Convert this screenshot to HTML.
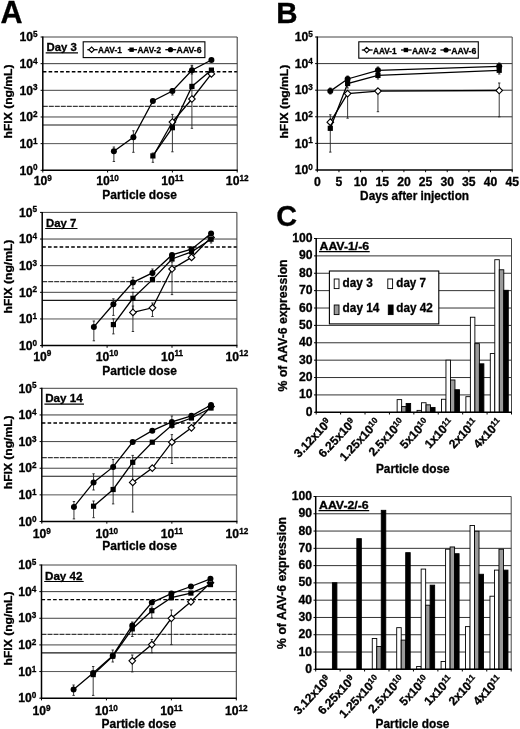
<!DOCTYPE html><html><head><meta charset="utf-8"><style>html,body{margin:0;padding:0;background:#fff;width:520px;height:729px;overflow:hidden}svg{filter:grayscale(100%)}</style></head><body><svg width="520" height="729" viewBox="0 0 520 729" style="display:block" font-family='"Liberation Sans", sans-serif' font-weight="bold">
<style>text{stroke:#000;stroke-width:0.3px}</style>
<rect width="520" height="729" fill="#fff"/>
<text x="0.60" y="22.60" font-size="30.5" text-anchor="start" >A</text>
<text x="276.30" y="23.20" font-size="29.5" text-anchor="start" >B</text>
<text x="276.30" y="225.80" font-size="28.8" text-anchor="start" >C</text>
<line x1="42.80" y1="63.66" x2="237.20" y2="63.66" stroke="#3a3a3a" stroke-width="1.0" />
<line x1="42.80" y1="71.69" x2="237.20" y2="71.69" stroke="#000" stroke-width="1.4" stroke-dasharray="3.6,2.2"/>
<line x1="42.80" y1="90.32" x2="237.20" y2="90.32" stroke="#444" stroke-width="1.0" />
<line x1="42.80" y1="106.37" x2="237.20" y2="106.37" stroke="#3a3a3a" stroke-width="1.2" stroke-dasharray="5,1"/>
<line x1="42.80" y1="116.98" x2="237.20" y2="116.98" stroke="#444" stroke-width="1.0" />
<line x1="42.80" y1="125.01" x2="237.20" y2="125.01" stroke="#1a1a1a" stroke-width="1.2" />
<line x1="42.80" y1="143.64" x2="237.20" y2="143.64" stroke="#555" stroke-width="1.0" />
<line x1="42.80" y1="37.00" x2="237.20" y2="37.00" stroke="#444" stroke-width="1.0" />
<line x1="237.20" y1="37.00" x2="237.20" y2="170.30" stroke="#333" stroke-width="1.0" />
<line x1="42.80" y1="36.50" x2="42.80" y2="171.00" stroke="#000" stroke-width="1.5" />
<line x1="42.10" y1="170.30" x2="237.70" y2="170.30" stroke="#000" stroke-width="1.5" />
<line x1="40.60" y1="170.30" x2="42.80" y2="170.30" stroke="#000" stroke-width="1.0" />
<line x1="40.60" y1="143.64" x2="42.80" y2="143.64" stroke="#000" stroke-width="1.0" />
<line x1="40.60" y1="116.98" x2="42.80" y2="116.98" stroke="#000" stroke-width="1.0" />
<line x1="40.60" y1="90.32" x2="42.80" y2="90.32" stroke="#000" stroke-width="1.0" />
<line x1="40.60" y1="63.66" x2="42.80" y2="63.66" stroke="#000" stroke-width="1.0" />
<line x1="40.60" y1="37.00" x2="42.80" y2="37.00" stroke="#000" stroke-width="1.0" />
<line x1="42.80" y1="170.30" x2="42.80" y2="172.50" stroke="#000" stroke-width="1.0" />
<line x1="107.60" y1="170.30" x2="107.60" y2="172.50" stroke="#000" stroke-width="1.0" />
<line x1="172.40" y1="170.30" x2="172.40" y2="172.50" stroke="#000" stroke-width="1.0" />
<line x1="237.20" y1="170.30" x2="237.20" y2="172.50" stroke="#000" stroke-width="1.0" />
<text x="37.60" y="174.50" font-size="12.2" text-anchor="end">10<tspan font-size="8.2" dy="-4.2">0</tspan></text>
<text x="37.60" y="147.84" font-size="12.2" text-anchor="end">10<tspan font-size="8.2" dy="-4.2">1</tspan></text>
<text x="37.60" y="121.18" font-size="12.2" text-anchor="end">10<tspan font-size="8.2" dy="-4.2">2</tspan></text>
<text x="37.60" y="94.52" font-size="12.2" text-anchor="end">10<tspan font-size="8.2" dy="-4.2">3</tspan></text>
<text x="37.60" y="67.86" font-size="12.2" text-anchor="end">10<tspan font-size="8.2" dy="-4.2">4</tspan></text>
<text x="37.60" y="41.20" font-size="12.2" text-anchor="end">10<tspan font-size="8.2" dy="-4.2">5</tspan></text>
<text x="42.80" y="185.30" font-size="12.2" text-anchor="middle">10<tspan font-size="8.2" dy="-4.2">9</tspan></text>
<text x="107.60" y="185.30" font-size="12.2" text-anchor="middle">10<tspan font-size="8.2" dy="-4.2">10</tspan></text>
<text x="172.40" y="185.30" font-size="12.2" text-anchor="middle">10<tspan font-size="8.2" dy="-4.2">11</tspan></text>
<text x="237.20" y="185.30" font-size="12.2" text-anchor="middle">10<tspan font-size="8.2" dy="-4.2">12</tspan></text>
<text x="0" y="0" font-size="11.3" text-anchor="middle" transform="translate(11.90,101.50) rotate(-90)" textLength="73.8" lengthAdjust="spacingAndGlyphs">hFIX (ng/mL)</text>
<text x="102.30" y="198.60" font-size="12.3" text-anchor="start" textLength="74.5" lengthAdjust="spacingAndGlyphs" >Particle dose</text>
<text x="46.50" y="50.80" font-size="10.5" text-anchor="start" textLength="30.3" lengthAdjust="spacingAndGlyphs" >Day 3</text>
<line x1="45.70" y1="52.80" x2="78.00" y2="52.80" stroke="#000" stroke-width="1.2" />
<line x1="113.88" y1="147.00" x2="113.88" y2="161.50" stroke="#222" stroke-width="0.9" />
<line x1="112.68" y1="147.00" x2="115.08" y2="147.00" stroke="#222" stroke-width="0.9" />
<line x1="112.68" y1="161.50" x2="115.08" y2="161.50" stroke="#222" stroke-width="0.9" />
<line x1="133.39" y1="130.80" x2="133.39" y2="152.30" stroke="#222" stroke-width="0.9" />
<line x1="132.19" y1="130.80" x2="134.59" y2="130.80" stroke="#222" stroke-width="0.9" />
<line x1="132.19" y1="152.30" x2="134.59" y2="152.30" stroke="#222" stroke-width="0.9" />
<line x1="172.40" y1="88.50" x2="172.40" y2="95.00" stroke="#222" stroke-width="0.9" />
<line x1="171.20" y1="88.50" x2="173.60" y2="88.50" stroke="#222" stroke-width="0.9" />
<line x1="171.20" y1="95.00" x2="173.60" y2="95.00" stroke="#222" stroke-width="0.9" />
<line x1="152.89" y1="153.00" x2="152.89" y2="162.30" stroke="#222" stroke-width="0.9" />
<line x1="151.69" y1="153.00" x2="154.09" y2="153.00" stroke="#222" stroke-width="0.9" />
<line x1="151.69" y1="162.30" x2="154.09" y2="162.30" stroke="#222" stroke-width="0.9" />
<line x1="172.40" y1="114.40" x2="172.40" y2="151.80" stroke="#222" stroke-width="0.9" />
<line x1="171.20" y1="114.40" x2="173.60" y2="114.40" stroke="#222" stroke-width="0.9" />
<line x1="171.20" y1="151.80" x2="173.60" y2="151.80" stroke="#222" stroke-width="0.9" />
<line x1="191.91" y1="65.30" x2="191.91" y2="128.30" stroke="#222" stroke-width="0.9" />
<line x1="190.71" y1="65.30" x2="193.11" y2="65.30" stroke="#222" stroke-width="0.9" />
<line x1="190.71" y1="128.30" x2="193.11" y2="128.30" stroke="#222" stroke-width="0.9" />
<line x1="191.91" y1="66.00" x2="191.91" y2="74.00" stroke="#222" stroke-width="0.9" />
<line x1="190.71" y1="66.00" x2="193.11" y2="66.00" stroke="#222" stroke-width="0.9" />
<line x1="190.71" y1="74.00" x2="193.11" y2="74.00" stroke="#222" stroke-width="0.9" />
<line x1="152.89" y1="156.50" x2="172.40" y2="122.00" stroke="#000" stroke-width="1.3"/>
<polyline points="172.40,122.00 191.91,99.00 211.41,73.90" fill="none" stroke="#000" stroke-width="1.3"/>
<path d="M172.40 118.70L175.70 122.00L172.40 125.30L169.10 122.00Z" fill="#fff" stroke="#000" stroke-width="1.1"/>
<path d="M191.91 95.70L195.21 99.00L191.91 102.30L188.61 99.00Z" fill="#fff" stroke="#000" stroke-width="1.1"/>
<path d="M211.41 70.60L214.71 73.90L211.41 77.20L208.11 73.90Z" fill="#fff" stroke="#000" stroke-width="1.1"/>
<polyline points="152.89,155.90 172.40,127.70 191.91,86.40 211.41,70.10" fill="none" stroke="#000" stroke-width="1.3"/>
<rect x="150.29" y="153.30" width="5.2" height="5.2" fill="#000"/>
<rect x="169.80" y="125.10" width="5.2" height="5.2" fill="#000"/>
<rect x="189.31" y="83.80" width="5.2" height="5.2" fill="#000"/>
<rect x="208.81" y="67.50" width="5.2" height="5.2" fill="#000"/>
<polyline points="113.88,151.30 133.39,137.20 152.89,100.90 172.40,91.00 191.91,70.30 211.41,60.00" fill="none" stroke="#000" stroke-width="1.3"/>
<circle cx="113.88" cy="151.30" r="3.0" fill="#000"/>
<circle cx="133.39" cy="137.20" r="3.0" fill="#000"/>
<circle cx="152.89" cy="100.90" r="3.0" fill="#000"/>
<circle cx="172.40" cy="91.00" r="3.0" fill="#000"/>
<circle cx="191.91" cy="70.30" r="3.0" fill="#000"/>
<circle cx="211.41" cy="60.00" r="3.0" fill="#000"/>
<line x1="42.20" y1="239.04" x2="236.90" y2="239.04" stroke="#3a3a3a" stroke-width="1.0" />
<line x1="42.20" y1="247.06" x2="236.90" y2="247.06" stroke="#000" stroke-width="1.4" stroke-dasharray="3.6,2.2"/>
<line x1="42.20" y1="265.68" x2="236.90" y2="265.68" stroke="#444" stroke-width="1.0" />
<line x1="42.20" y1="281.72" x2="236.90" y2="281.72" stroke="#3a3a3a" stroke-width="1.2" stroke-dasharray="5,1"/>
<line x1="42.20" y1="292.32" x2="236.90" y2="292.32" stroke="#444" stroke-width="1.0" />
<line x1="42.20" y1="300.34" x2="236.90" y2="300.34" stroke="#1a1a1a" stroke-width="1.2" />
<line x1="42.20" y1="318.96" x2="236.90" y2="318.96" stroke="#555" stroke-width="1.0" />
<line x1="42.20" y1="212.40" x2="236.90" y2="212.40" stroke="#444" stroke-width="1.0" />
<line x1="236.90" y1="212.40" x2="236.90" y2="345.60" stroke="#333" stroke-width="1.0" />
<line x1="42.20" y1="211.90" x2="42.20" y2="346.30" stroke="#000" stroke-width="1.5" />
<line x1="41.50" y1="345.60" x2="237.40" y2="345.60" stroke="#000" stroke-width="1.5" />
<line x1="40.00" y1="345.60" x2="42.20" y2="345.60" stroke="#000" stroke-width="1.0" />
<line x1="40.00" y1="318.96" x2="42.20" y2="318.96" stroke="#000" stroke-width="1.0" />
<line x1="40.00" y1="292.32" x2="42.20" y2="292.32" stroke="#000" stroke-width="1.0" />
<line x1="40.00" y1="265.68" x2="42.20" y2="265.68" stroke="#000" stroke-width="1.0" />
<line x1="40.00" y1="239.04" x2="42.20" y2="239.04" stroke="#000" stroke-width="1.0" />
<line x1="40.00" y1="212.40" x2="42.20" y2="212.40" stroke="#000" stroke-width="1.0" />
<line x1="42.20" y1="345.60" x2="42.20" y2="347.80" stroke="#000" stroke-width="1.0" />
<line x1="107.10" y1="345.60" x2="107.10" y2="347.80" stroke="#000" stroke-width="1.0" />
<line x1="172.00" y1="345.60" x2="172.00" y2="347.80" stroke="#000" stroke-width="1.0" />
<line x1="236.90" y1="345.60" x2="236.90" y2="347.80" stroke="#000" stroke-width="1.0" />
<text x="37.00" y="349.80" font-size="12.2" text-anchor="end">10<tspan font-size="8.2" dy="-4.2">0</tspan></text>
<text x="37.00" y="323.16" font-size="12.2" text-anchor="end">10<tspan font-size="8.2" dy="-4.2">1</tspan></text>
<text x="37.00" y="296.52" font-size="12.2" text-anchor="end">10<tspan font-size="8.2" dy="-4.2">2</tspan></text>
<text x="37.00" y="269.88" font-size="12.2" text-anchor="end">10<tspan font-size="8.2" dy="-4.2">3</tspan></text>
<text x="37.00" y="243.24" font-size="12.2" text-anchor="end">10<tspan font-size="8.2" dy="-4.2">4</tspan></text>
<text x="37.00" y="216.60" font-size="12.2" text-anchor="end">10<tspan font-size="8.2" dy="-4.2">5</tspan></text>
<text x="42.20" y="360.60" font-size="12.2" text-anchor="middle">10<tspan font-size="8.2" dy="-4.2">9</tspan></text>
<text x="107.10" y="360.60" font-size="12.2" text-anchor="middle">10<tspan font-size="8.2" dy="-4.2">10</tspan></text>
<text x="172.00" y="360.60" font-size="12.2" text-anchor="middle">10<tspan font-size="8.2" dy="-4.2">11</tspan></text>
<text x="236.90" y="360.60" font-size="12.2" text-anchor="middle">10<tspan font-size="8.2" dy="-4.2">12</tspan></text>
<text x="0" y="0" font-size="11.3" text-anchor="middle" transform="translate(11.90,276.60) rotate(-90)" textLength="73.8" lengthAdjust="spacingAndGlyphs">hFIX (ng/mL)</text>
<text x="102.30" y="374.80" font-size="12.3" text-anchor="start" textLength="74.5" lengthAdjust="spacingAndGlyphs" >Particle dose</text>
<text x="46.00" y="226.50" font-size="10.5" text-anchor="start" textLength="30.3" lengthAdjust="spacingAndGlyphs" >Day 7</text>
<line x1="45.20" y1="228.50" x2="77.50" y2="228.50" stroke="#000" stroke-width="1.2" />
<line x1="93.85" y1="321.00" x2="93.85" y2="340.80" stroke="#222" stroke-width="0.9" />
<line x1="92.65" y1="321.00" x2="95.05" y2="321.00" stroke="#222" stroke-width="0.9" />
<line x1="92.65" y1="340.80" x2="95.05" y2="340.80" stroke="#222" stroke-width="0.9" />
<line x1="113.39" y1="298.80" x2="113.39" y2="315.40" stroke="#222" stroke-width="0.9" />
<line x1="112.19" y1="298.80" x2="114.59" y2="298.80" stroke="#222" stroke-width="0.9" />
<line x1="112.19" y1="315.40" x2="114.59" y2="315.40" stroke="#222" stroke-width="0.9" />
<line x1="132.93" y1="277.30" x2="132.93" y2="288.80" stroke="#222" stroke-width="0.9" />
<line x1="131.73" y1="277.30" x2="134.13" y2="277.30" stroke="#222" stroke-width="0.9" />
<line x1="131.73" y1="288.80" x2="134.13" y2="288.80" stroke="#222" stroke-width="0.9" />
<line x1="113.39" y1="318.80" x2="113.39" y2="333.90" stroke="#222" stroke-width="0.9" />
<line x1="112.19" y1="318.80" x2="114.59" y2="318.80" stroke="#222" stroke-width="0.9" />
<line x1="112.19" y1="333.90" x2="114.59" y2="333.90" stroke="#222" stroke-width="0.9" />
<line x1="132.93" y1="292.30" x2="132.93" y2="310.80" stroke="#222" stroke-width="0.9" />
<line x1="131.73" y1="292.30" x2="134.13" y2="292.30" stroke="#222" stroke-width="0.9" />
<line x1="131.73" y1="310.80" x2="134.13" y2="310.80" stroke="#222" stroke-width="0.9" />
<line x1="132.93" y1="306.00" x2="132.93" y2="331.50" stroke="#222" stroke-width="0.9" />
<line x1="131.73" y1="306.00" x2="134.13" y2="306.00" stroke="#222" stroke-width="0.9" />
<line x1="131.73" y1="331.50" x2="134.13" y2="331.50" stroke="#222" stroke-width="0.9" />
<line x1="152.46" y1="303.00" x2="152.46" y2="316.50" stroke="#222" stroke-width="0.9" />
<line x1="151.26" y1="303.00" x2="153.66" y2="303.00" stroke="#222" stroke-width="0.9" />
<line x1="151.26" y1="316.50" x2="153.66" y2="316.50" stroke="#222" stroke-width="0.9" />
<line x1="172.00" y1="262.00" x2="172.00" y2="294.60" stroke="#222" stroke-width="0.9" />
<line x1="170.80" y1="262.00" x2="173.20" y2="262.00" stroke="#222" stroke-width="0.9" />
<line x1="170.80" y1="294.60" x2="173.20" y2="294.60" stroke="#222" stroke-width="0.9" />
<line x1="211.07" y1="236.00" x2="211.07" y2="243.00" stroke="#222" stroke-width="0.9" />
<line x1="209.87" y1="236.00" x2="212.27" y2="236.00" stroke="#222" stroke-width="0.9" />
<line x1="209.87" y1="243.00" x2="212.27" y2="243.00" stroke="#222" stroke-width="0.9" />
<line x1="152.46" y1="269.00" x2="152.46" y2="276.00" stroke="#222" stroke-width="0.9" />
<line x1="151.26" y1="269.00" x2="153.66" y2="269.00" stroke="#222" stroke-width="0.9" />
<line x1="151.26" y1="276.00" x2="153.66" y2="276.00" stroke="#222" stroke-width="0.9" />
<polyline points="132.93,312.40 152.46,307.80 172.00,269.00 191.54,257.40 211.07,237.40" fill="none" stroke="#000" stroke-width="1.3"/>
<path d="M132.93 309.10L136.23 312.40L132.93 315.70L129.63 312.40Z" fill="#fff" stroke="#000" stroke-width="1.1"/>
<path d="M152.46 304.50L155.76 307.80L152.46 311.10L149.16 307.80Z" fill="#fff" stroke="#000" stroke-width="1.1"/>
<path d="M172.00 265.70L175.30 269.00L172.00 272.30L168.70 269.00Z" fill="#fff" stroke="#000" stroke-width="1.1"/>
<path d="M191.54 254.10L194.84 257.40L191.54 260.70L188.24 257.40Z" fill="#fff" stroke="#000" stroke-width="1.1"/>
<path d="M211.07 234.10L214.37 237.40L211.07 240.70L207.77 237.40Z" fill="#fff" stroke="#000" stroke-width="1.1"/>
<polyline points="113.39,324.60 132.93,298.30 152.46,279.60 172.00,259.00 191.54,251.80 211.07,239.20" fill="none" stroke="#000" stroke-width="1.3"/>
<rect x="110.79" y="322.00" width="5.2" height="5.2" fill="#000"/>
<rect x="130.33" y="295.70" width="5.2" height="5.2" fill="#000"/>
<rect x="149.86" y="277.00" width="5.2" height="5.2" fill="#000"/>
<rect x="169.40" y="256.40" width="5.2" height="5.2" fill="#000"/>
<rect x="188.94" y="249.20" width="5.2" height="5.2" fill="#000"/>
<rect x="208.47" y="236.60" width="5.2" height="5.2" fill="#000"/>
<polyline points="93.85,326.90 113.39,304.30 132.93,282.40 152.46,272.90 172.00,254.90 191.54,249.20 211.07,233.40" fill="none" stroke="#000" stroke-width="1.3"/>
<circle cx="93.85" cy="326.90" r="3.0" fill="#000"/>
<circle cx="113.39" cy="304.30" r="3.0" fill="#000"/>
<circle cx="132.93" cy="282.40" r="3.0" fill="#000"/>
<circle cx="152.46" cy="272.90" r="3.0" fill="#000"/>
<circle cx="172.00" cy="254.90" r="3.0" fill="#000"/>
<circle cx="191.54" cy="249.20" r="3.0" fill="#000"/>
<circle cx="211.07" cy="233.40" r="3.0" fill="#000"/>
<line x1="41.80" y1="414.94" x2="236.90" y2="414.94" stroke="#3a3a3a" stroke-width="1.0" />
<line x1="41.80" y1="422.96" x2="236.90" y2="422.96" stroke="#000" stroke-width="1.4" stroke-dasharray="3.6,2.2"/>
<line x1="41.80" y1="441.58" x2="236.90" y2="441.58" stroke="#444" stroke-width="1.0" />
<line x1="41.80" y1="457.62" x2="236.90" y2="457.62" stroke="#3a3a3a" stroke-width="1.2" stroke-dasharray="5,1"/>
<line x1="41.80" y1="468.22" x2="236.90" y2="468.22" stroke="#444" stroke-width="1.0" />
<line x1="41.80" y1="476.24" x2="236.90" y2="476.24" stroke="#1a1a1a" stroke-width="1.2" />
<line x1="41.80" y1="494.86" x2="236.90" y2="494.86" stroke="#555" stroke-width="1.0" />
<line x1="41.80" y1="388.30" x2="236.90" y2="388.30" stroke="#444" stroke-width="1.0" />
<line x1="236.90" y1="388.30" x2="236.90" y2="521.50" stroke="#333" stroke-width="1.0" />
<line x1="41.80" y1="387.80" x2="41.80" y2="522.20" stroke="#000" stroke-width="1.5" />
<line x1="41.10" y1="521.50" x2="237.40" y2="521.50" stroke="#000" stroke-width="1.5" />
<line x1="39.60" y1="521.50" x2="41.80" y2="521.50" stroke="#000" stroke-width="1.0" />
<line x1="39.60" y1="494.86" x2="41.80" y2="494.86" stroke="#000" stroke-width="1.0" />
<line x1="39.60" y1="468.22" x2="41.80" y2="468.22" stroke="#000" stroke-width="1.0" />
<line x1="39.60" y1="441.58" x2="41.80" y2="441.58" stroke="#000" stroke-width="1.0" />
<line x1="39.60" y1="414.94" x2="41.80" y2="414.94" stroke="#000" stroke-width="1.0" />
<line x1="39.60" y1="388.30" x2="41.80" y2="388.30" stroke="#000" stroke-width="1.0" />
<line x1="41.80" y1="521.50" x2="41.80" y2="523.70" stroke="#000" stroke-width="1.0" />
<line x1="106.83" y1="521.50" x2="106.83" y2="523.70" stroke="#000" stroke-width="1.0" />
<line x1="171.87" y1="521.50" x2="171.87" y2="523.70" stroke="#000" stroke-width="1.0" />
<line x1="236.90" y1="521.50" x2="236.90" y2="523.70" stroke="#000" stroke-width="1.0" />
<text x="36.60" y="525.70" font-size="12.2" text-anchor="end">10<tspan font-size="8.2" dy="-4.2">0</tspan></text>
<text x="36.60" y="499.06" font-size="12.2" text-anchor="end">10<tspan font-size="8.2" dy="-4.2">1</tspan></text>
<text x="36.60" y="472.42" font-size="12.2" text-anchor="end">10<tspan font-size="8.2" dy="-4.2">2</tspan></text>
<text x="36.60" y="445.78" font-size="12.2" text-anchor="end">10<tspan font-size="8.2" dy="-4.2">3</tspan></text>
<text x="36.60" y="419.14" font-size="12.2" text-anchor="end">10<tspan font-size="8.2" dy="-4.2">4</tspan></text>
<text x="36.60" y="392.50" font-size="12.2" text-anchor="end">10<tspan font-size="8.2" dy="-4.2">5</tspan></text>
<text x="41.80" y="538.10" font-size="12.2" text-anchor="middle">10<tspan font-size="8.2" dy="-4.2">9</tspan></text>
<text x="106.83" y="538.10" font-size="12.2" text-anchor="middle">10<tspan font-size="8.2" dy="-4.2">10</tspan></text>
<text x="171.87" y="538.10" font-size="12.2" text-anchor="middle">10<tspan font-size="8.2" dy="-4.2">11</tspan></text>
<text x="236.90" y="538.10" font-size="12.2" text-anchor="middle">10<tspan font-size="8.2" dy="-4.2">12</tspan></text>
<text x="0" y="0" font-size="11.3" text-anchor="middle" transform="translate(11.70,452.30) rotate(-90)" textLength="73.8" lengthAdjust="spacingAndGlyphs">hFIX (ng/mL)</text>
<text x="102.30" y="549.80" font-size="12.3" text-anchor="start" textLength="74.5" lengthAdjust="spacingAndGlyphs" >Particle dose</text>
<text x="45.20" y="402.20" font-size="10.5" text-anchor="start" textLength="37.5" lengthAdjust="spacingAndGlyphs" >Day 14</text>
<line x1="44.40" y1="404.20" x2="83.90" y2="404.20" stroke="#000" stroke-width="1.2" />
<line x1="73.94" y1="501.50" x2="73.94" y2="518.90" stroke="#222" stroke-width="0.9" />
<line x1="72.74" y1="501.50" x2="75.14" y2="501.50" stroke="#222" stroke-width="0.9" />
<line x1="72.74" y1="518.90" x2="75.14" y2="518.90" stroke="#222" stroke-width="0.9" />
<line x1="93.56" y1="473.80" x2="93.56" y2="490.00" stroke="#222" stroke-width="0.9" />
<line x1="92.36" y1="473.80" x2="94.76" y2="473.80" stroke="#222" stroke-width="0.9" />
<line x1="92.36" y1="490.00" x2="94.76" y2="490.00" stroke="#222" stroke-width="0.9" />
<line x1="113.14" y1="459.50" x2="113.14" y2="503.90" stroke="#222" stroke-width="0.9" />
<line x1="111.94" y1="459.50" x2="114.34" y2="459.50" stroke="#222" stroke-width="0.9" />
<line x1="111.94" y1="503.90" x2="114.34" y2="503.90" stroke="#222" stroke-width="0.9" />
<line x1="93.56" y1="501.00" x2="93.56" y2="517.70" stroke="#222" stroke-width="0.9" />
<line x1="92.36" y1="501.00" x2="94.76" y2="501.00" stroke="#222" stroke-width="0.9" />
<line x1="92.36" y1="517.70" x2="94.76" y2="517.70" stroke="#222" stroke-width="0.9" />
<line x1="132.71" y1="455.40" x2="132.71" y2="512.00" stroke="#222" stroke-width="0.9" />
<line x1="131.51" y1="455.40" x2="133.91" y2="455.40" stroke="#222" stroke-width="0.9" />
<line x1="131.51" y1="512.00" x2="133.91" y2="512.00" stroke="#222" stroke-width="0.9" />
<line x1="171.87" y1="434.60" x2="171.87" y2="463.50" stroke="#222" stroke-width="0.9" />
<line x1="170.67" y1="434.60" x2="173.07" y2="434.60" stroke="#222" stroke-width="0.9" />
<line x1="170.67" y1="463.50" x2="173.07" y2="463.50" stroke="#222" stroke-width="0.9" />
<line x1="171.87" y1="416.00" x2="171.87" y2="428.00" stroke="#222" stroke-width="0.9" />
<line x1="170.67" y1="416.00" x2="173.07" y2="416.00" stroke="#222" stroke-width="0.9" />
<line x1="170.67" y1="428.00" x2="173.07" y2="428.00" stroke="#222" stroke-width="0.9" />
<polyline points="132.71,482.40 152.29,468.10 171.87,442.20 191.44,427.80 211.02,406.50" fill="none" stroke="#000" stroke-width="1.3"/>
<path d="M132.71 479.10L136.01 482.40L132.71 485.70L129.41 482.40Z" fill="#fff" stroke="#000" stroke-width="1.1"/>
<path d="M152.29 464.80L155.59 468.10L152.29 471.40L148.99 468.10Z" fill="#fff" stroke="#000" stroke-width="1.1"/>
<path d="M171.87 438.90L175.17 442.20L171.87 445.50L168.57 442.20Z" fill="#fff" stroke="#000" stroke-width="1.1"/>
<path d="M191.44 424.50L194.74 427.80L191.44 431.10L188.14 427.80Z" fill="#fff" stroke="#000" stroke-width="1.1"/>
<path d="M211.02 403.20L214.32 406.50L211.02 409.80L207.72 406.50Z" fill="#fff" stroke="#000" stroke-width="1.1"/>
<polyline points="93.56,506.20 113.14,489.50 132.71,462.30 152.29,442.20 171.87,425.30 191.44,418.00 211.02,408.00" fill="none" stroke="#000" stroke-width="1.3"/>
<rect x="90.96" y="503.60" width="5.2" height="5.2" fill="#000"/>
<rect x="110.54" y="486.90" width="5.2" height="5.2" fill="#000"/>
<rect x="130.11" y="459.70" width="5.2" height="5.2" fill="#000"/>
<rect x="149.69" y="439.60" width="5.2" height="5.2" fill="#000"/>
<rect x="169.27" y="422.70" width="5.2" height="5.2" fill="#000"/>
<rect x="188.84" y="415.40" width="5.2" height="5.2" fill="#000"/>
<rect x="208.42" y="405.40" width="5.2" height="5.2" fill="#000"/>
<polyline points="73.94,506.90 93.56,482.40 113.14,466.90 132.71,442.00 152.29,430.70 171.87,421.90 191.44,415.80 211.02,405.00" fill="none" stroke="#000" stroke-width="1.3"/>
<circle cx="73.94" cy="506.90" r="3.0" fill="#000"/>
<circle cx="93.56" cy="482.40" r="3.0" fill="#000"/>
<circle cx="113.14" cy="466.90" r="3.0" fill="#000"/>
<circle cx="132.71" cy="442.00" r="3.0" fill="#000"/>
<circle cx="152.29" cy="430.70" r="3.0" fill="#000"/>
<circle cx="171.87" cy="421.90" r="3.0" fill="#000"/>
<circle cx="191.44" cy="415.80" r="3.0" fill="#000"/>
<circle cx="211.02" cy="405.00" r="3.0" fill="#000"/>
<line x1="41.50" y1="591.64" x2="236.30" y2="591.64" stroke="#3a3a3a" stroke-width="1.0" />
<line x1="41.50" y1="599.66" x2="236.30" y2="599.66" stroke="#000" stroke-width="1.4" stroke-dasharray="3.6,2.2"/>
<line x1="41.50" y1="618.28" x2="236.30" y2="618.28" stroke="#444" stroke-width="1.0" />
<line x1="41.50" y1="634.32" x2="236.30" y2="634.32" stroke="#3a3a3a" stroke-width="1.2" stroke-dasharray="5,1"/>
<line x1="41.50" y1="644.92" x2="236.30" y2="644.92" stroke="#444" stroke-width="1.0" />
<line x1="41.50" y1="652.94" x2="236.30" y2="652.94" stroke="#1a1a1a" stroke-width="1.2" />
<line x1="41.50" y1="671.56" x2="236.30" y2="671.56" stroke="#555" stroke-width="1.0" />
<line x1="41.50" y1="565.00" x2="236.30" y2="565.00" stroke="#444" stroke-width="1.0" />
<line x1="236.30" y1="565.00" x2="236.30" y2="698.20" stroke="#333" stroke-width="1.0" />
<line x1="41.50" y1="564.50" x2="41.50" y2="698.90" stroke="#000" stroke-width="1.5" />
<line x1="40.80" y1="698.20" x2="236.80" y2="698.20" stroke="#000" stroke-width="1.5" />
<line x1="39.30" y1="698.20" x2="41.50" y2="698.20" stroke="#000" stroke-width="1.0" />
<line x1="39.30" y1="671.56" x2="41.50" y2="671.56" stroke="#000" stroke-width="1.0" />
<line x1="39.30" y1="644.92" x2="41.50" y2="644.92" stroke="#000" stroke-width="1.0" />
<line x1="39.30" y1="618.28" x2="41.50" y2="618.28" stroke="#000" stroke-width="1.0" />
<line x1="39.30" y1="591.64" x2="41.50" y2="591.64" stroke="#000" stroke-width="1.0" />
<line x1="39.30" y1="565.00" x2="41.50" y2="565.00" stroke="#000" stroke-width="1.0" />
<line x1="41.50" y1="698.20" x2="41.50" y2="700.40" stroke="#000" stroke-width="1.0" />
<line x1="106.43" y1="698.20" x2="106.43" y2="700.40" stroke="#000" stroke-width="1.0" />
<line x1="171.37" y1="698.20" x2="171.37" y2="700.40" stroke="#000" stroke-width="1.0" />
<line x1="236.30" y1="698.20" x2="236.30" y2="700.40" stroke="#000" stroke-width="1.0" />
<text x="36.30" y="702.40" font-size="12.2" text-anchor="end">10<tspan font-size="8.2" dy="-4.2">0</tspan></text>
<text x="36.30" y="675.76" font-size="12.2" text-anchor="end">10<tspan font-size="8.2" dy="-4.2">1</tspan></text>
<text x="36.30" y="649.12" font-size="12.2" text-anchor="end">10<tspan font-size="8.2" dy="-4.2">2</tspan></text>
<text x="36.30" y="622.48" font-size="12.2" text-anchor="end">10<tspan font-size="8.2" dy="-4.2">3</tspan></text>
<text x="36.30" y="595.84" font-size="12.2" text-anchor="end">10<tspan font-size="8.2" dy="-4.2">4</tspan></text>
<text x="36.30" y="569.20" font-size="12.2" text-anchor="end">10<tspan font-size="8.2" dy="-4.2">5</tspan></text>
<text x="41.50" y="715.20" font-size="12.2" text-anchor="middle">10<tspan font-size="8.2" dy="-4.2">9</tspan></text>
<text x="106.43" y="715.20" font-size="12.2" text-anchor="middle">10<tspan font-size="8.2" dy="-4.2">10</tspan></text>
<text x="171.37" y="715.20" font-size="12.2" text-anchor="middle">10<tspan font-size="8.2" dy="-4.2">11</tspan></text>
<text x="236.30" y="715.20" font-size="12.2" text-anchor="middle">10<tspan font-size="8.2" dy="-4.2">12</tspan></text>
<text x="0" y="0" font-size="11.3" text-anchor="middle" transform="translate(11.70,628.50) rotate(-90)" textLength="73.8" lengthAdjust="spacingAndGlyphs">hFIX (ng/mL)</text>
<text x="101.60" y="727.60" font-size="12.3" text-anchor="start" textLength="74.5" lengthAdjust="spacingAndGlyphs" >Particle dose</text>
<text x="45.00" y="579.50" font-size="10.5" text-anchor="start" textLength="37.5" lengthAdjust="spacingAndGlyphs" >Day 42</text>
<line x1="44.20" y1="581.50" x2="83.70" y2="581.50" stroke="#000" stroke-width="1.2" />
<line x1="73.59" y1="685.00" x2="73.59" y2="695.40" stroke="#222" stroke-width="0.9" />
<line x1="72.39" y1="685.00" x2="74.79" y2="685.00" stroke="#222" stroke-width="0.9" />
<line x1="72.39" y1="695.40" x2="74.79" y2="695.40" stroke="#222" stroke-width="0.9" />
<line x1="93.18" y1="666.50" x2="93.18" y2="695.40" stroke="#222" stroke-width="0.9" />
<line x1="91.98" y1="666.50" x2="94.38" y2="666.50" stroke="#222" stroke-width="0.9" />
<line x1="91.98" y1="695.40" x2="94.38" y2="695.40" stroke="#222" stroke-width="0.9" />
<line x1="132.27" y1="622.00" x2="132.27" y2="636.50" stroke="#222" stroke-width="0.9" />
<line x1="131.07" y1="622.00" x2="133.47" y2="622.00" stroke="#222" stroke-width="0.9" />
<line x1="131.07" y1="636.50" x2="133.47" y2="636.50" stroke="#222" stroke-width="0.9" />
<line x1="151.82" y1="607.00" x2="151.82" y2="618.00" stroke="#222" stroke-width="0.9" />
<line x1="150.62" y1="607.00" x2="153.02" y2="607.00" stroke="#222" stroke-width="0.9" />
<line x1="150.62" y1="618.00" x2="153.02" y2="618.00" stroke="#222" stroke-width="0.9" />
<line x1="132.27" y1="655.00" x2="132.27" y2="671.90" stroke="#222" stroke-width="0.9" />
<line x1="131.07" y1="655.00" x2="133.47" y2="655.00" stroke="#222" stroke-width="0.9" />
<line x1="131.07" y1="671.90" x2="133.47" y2="671.90" stroke="#222" stroke-width="0.9" />
<line x1="151.82" y1="639.50" x2="151.82" y2="652.70" stroke="#222" stroke-width="0.9" />
<line x1="150.62" y1="639.50" x2="153.02" y2="639.50" stroke="#222" stroke-width="0.9" />
<line x1="150.62" y1="652.70" x2="153.02" y2="652.70" stroke="#222" stroke-width="0.9" />
<line x1="171.37" y1="610.00" x2="171.37" y2="644.60" stroke="#222" stroke-width="0.9" />
<line x1="170.17" y1="610.00" x2="172.57" y2="610.00" stroke="#222" stroke-width="0.9" />
<line x1="170.17" y1="644.60" x2="172.57" y2="644.60" stroke="#222" stroke-width="0.9" />
<line x1="112.73" y1="650.00" x2="112.73" y2="662.00" stroke="#222" stroke-width="0.9" />
<line x1="111.53" y1="650.00" x2="113.93" y2="650.00" stroke="#222" stroke-width="0.9" />
<line x1="111.53" y1="662.00" x2="113.93" y2="662.00" stroke="#222" stroke-width="0.9" />
<polyline points="132.27,660.80 151.82,644.60 171.37,618.30 190.91,601.80 210.46,582.80" fill="none" stroke="#000" stroke-width="1.3"/>
<path d="M132.27 657.50L135.57 660.80L132.27 664.10L128.97 660.80Z" fill="#fff" stroke="#000" stroke-width="1.1"/>
<path d="M151.82 641.30L155.12 644.60L151.82 647.90L148.52 644.60Z" fill="#fff" stroke="#000" stroke-width="1.1"/>
<path d="M171.37 615.00L174.67 618.30L171.37 621.60L168.07 618.30Z" fill="#fff" stroke="#000" stroke-width="1.1"/>
<path d="M190.91 598.50L194.21 601.80L190.91 605.10L187.61 601.80Z" fill="#fff" stroke="#000" stroke-width="1.1"/>
<path d="M210.46 579.50L213.76 582.80L210.46 586.10L207.16 582.80Z" fill="#fff" stroke="#000" stroke-width="1.1"/>
<polyline points="93.18,674.60 112.73,656.20 132.27,628.90 151.82,610.70 171.37,597.70 190.91,593.10 210.46,584.60" fill="none" stroke="#000" stroke-width="1.3"/>
<rect x="90.58" y="672.00" width="5.2" height="5.2" fill="#000"/>
<rect x="110.13" y="653.60" width="5.2" height="5.2" fill="#000"/>
<rect x="129.67" y="626.30" width="5.2" height="5.2" fill="#000"/>
<rect x="149.22" y="608.10" width="5.2" height="5.2" fill="#000"/>
<rect x="168.77" y="595.10" width="5.2" height="5.2" fill="#000"/>
<rect x="188.31" y="590.50" width="5.2" height="5.2" fill="#000"/>
<rect x="207.86" y="582.00" width="5.2" height="5.2" fill="#000"/>
<polyline points="73.59,689.60 93.18,673.00 112.73,655.70 132.27,625.50 151.82,602.60 171.37,593.60 190.91,586.50 210.46,578.80" fill="none" stroke="#000" stroke-width="1.3"/>
<circle cx="73.59" cy="689.60" r="3.0" fill="#000"/>
<circle cx="93.18" cy="673.00" r="3.0" fill="#000"/>
<circle cx="112.73" cy="655.70" r="3.0" fill="#000"/>
<circle cx="132.27" cy="625.50" r="3.0" fill="#000"/>
<circle cx="151.82" cy="602.60" r="3.0" fill="#000"/>
<circle cx="171.37" cy="593.60" r="3.0" fill="#000"/>
<circle cx="190.91" cy="586.50" r="3.0" fill="#000"/>
<circle cx="210.46" cy="578.80" r="3.0" fill="#000"/>
<rect x="83.20" y="41.80" width="121.70" height="15.80" fill="#fff" stroke="#000" stroke-width="1.1"/>
<line x1="87.30" y1="49.70" x2="97.60" y2="49.70" stroke="#000" stroke-width="1.3" />
<path d="M91.60 47.00L94.30 49.70L91.60 52.40L88.90 49.70Z" fill="#fff" stroke="#000" stroke-width="1.1"/>
<text x="98.00" y="53.00" font-size="8.8" text-anchor="start" textLength="23.8" lengthAdjust="spacingAndGlyphs" >AAV-1</text>
<line x1="127.80" y1="49.70" x2="137.00" y2="49.70" stroke="#000" stroke-width="1.3" />
<rect x="129.40" y="47.50" width="4.4" height="4.4" fill="#000"/>
<text x="137.40" y="53.00" font-size="8.8" text-anchor="start" textLength="23.6" lengthAdjust="spacingAndGlyphs" >AAV-2</text>
<line x1="165.30" y1="49.70" x2="176.20" y2="49.70" stroke="#000" stroke-width="1.3" />
<circle cx="170.50" cy="49.70" r="2.6" fill="#000"/>
<text x="176.60" y="53.00" font-size="8.8" text-anchor="start" textLength="25.0" lengthAdjust="spacingAndGlyphs" >AAV-6</text>
<line x1="317.30" y1="63.60" x2="512.20" y2="63.60" stroke="#333" stroke-width="1.0" />
<line x1="317.30" y1="90.20" x2="512.20" y2="90.20" stroke="#333" stroke-width="1.0" />
<line x1="317.30" y1="116.80" x2="512.20" y2="116.80" stroke="#333" stroke-width="1.0" />
<line x1="317.30" y1="143.40" x2="512.20" y2="143.40" stroke="#333" stroke-width="1.0" />
<line x1="317.30" y1="37.00" x2="512.20" y2="37.00" stroke="#444" stroke-width="1.0" />
<line x1="512.20" y1="37.00" x2="512.20" y2="170.00" stroke="#444" stroke-width="1.0" />
<line x1="317.30" y1="36.50" x2="317.30" y2="170.70" stroke="#000" stroke-width="1.5" />
<line x1="316.60" y1="170.00" x2="512.70" y2="170.00" stroke="#000" stroke-width="1.5" />
<line x1="315.10" y1="170.00" x2="317.30" y2="170.00" stroke="#000" stroke-width="1.0" />
<text x="312.80" y="174.20" font-size="12.2" text-anchor="end">10<tspan font-size="8.2" dy="-4.2">0</tspan></text>
<line x1="315.10" y1="143.40" x2="317.30" y2="143.40" stroke="#000" stroke-width="1.0" />
<text x="312.80" y="147.60" font-size="12.2" text-anchor="end">10<tspan font-size="8.2" dy="-4.2">1</tspan></text>
<line x1="315.10" y1="116.80" x2="317.30" y2="116.80" stroke="#000" stroke-width="1.0" />
<text x="312.80" y="121.00" font-size="12.2" text-anchor="end">10<tspan font-size="8.2" dy="-4.2">2</tspan></text>
<line x1="315.10" y1="90.20" x2="317.30" y2="90.20" stroke="#000" stroke-width="1.0" />
<text x="312.80" y="94.40" font-size="12.2" text-anchor="end">10<tspan font-size="8.2" dy="-4.2">3</tspan></text>
<line x1="315.10" y1="63.60" x2="317.30" y2="63.60" stroke="#000" stroke-width="1.0" />
<text x="312.80" y="67.80" font-size="12.2" text-anchor="end">10<tspan font-size="8.2" dy="-4.2">4</tspan></text>
<line x1="315.10" y1="37.00" x2="317.30" y2="37.00" stroke="#000" stroke-width="1.0" />
<text x="312.80" y="41.20" font-size="12.2" text-anchor="end">10<tspan font-size="8.2" dy="-4.2">5</tspan></text>
<line x1="317.30" y1="170.00" x2="317.30" y2="172.20" stroke="#000" stroke-width="1.0" />
<text x="317.30" y="185.60" font-size="12.2" text-anchor="middle" >0</text>
<line x1="338.96" y1="170.00" x2="338.96" y2="172.20" stroke="#000" stroke-width="1.0" />
<text x="338.96" y="185.60" font-size="12.2" text-anchor="middle" >5</text>
<line x1="360.61" y1="170.00" x2="360.61" y2="172.20" stroke="#000" stroke-width="1.0" />
<text x="360.61" y="185.60" font-size="12.2" text-anchor="middle" >10</text>
<line x1="382.27" y1="170.00" x2="382.27" y2="172.20" stroke="#000" stroke-width="1.0" />
<text x="382.27" y="185.60" font-size="12.2" text-anchor="middle" >15</text>
<line x1="403.92" y1="170.00" x2="403.92" y2="172.20" stroke="#000" stroke-width="1.0" />
<text x="403.92" y="185.60" font-size="12.2" text-anchor="middle" >20</text>
<line x1="425.58" y1="170.00" x2="425.58" y2="172.20" stroke="#000" stroke-width="1.0" />
<text x="425.58" y="185.60" font-size="12.2" text-anchor="middle" >25</text>
<line x1="447.23" y1="170.00" x2="447.23" y2="172.20" stroke="#000" stroke-width="1.0" />
<text x="447.23" y="185.60" font-size="12.2" text-anchor="middle" >30</text>
<line x1="468.89" y1="170.00" x2="468.89" y2="172.20" stroke="#000" stroke-width="1.0" />
<text x="468.89" y="185.60" font-size="12.2" text-anchor="middle" >35</text>
<line x1="490.54" y1="170.00" x2="490.54" y2="172.20" stroke="#000" stroke-width="1.0" />
<text x="490.54" y="185.60" font-size="12.2" text-anchor="middle" >40</text>
<line x1="512.20" y1="170.00" x2="512.20" y2="172.20" stroke="#000" stroke-width="1.0" />
<text x="512.20" y="185.60" font-size="12.2" text-anchor="middle" >45</text>
<text x="0" y="0" font-size="11.3" text-anchor="middle" transform="translate(287.70,101.70) rotate(-90)" textLength="73.8" lengthAdjust="spacingAndGlyphs">hFIX (ng/mL)</text>
<text x="360.10" y="199.60" font-size="12.2" text-anchor="start" textLength="109" lengthAdjust="spacingAndGlyphs" >Days after injection</text>
<line x1="330.29" y1="114.80" x2="330.29" y2="130.00" stroke="#222" stroke-width="0.9" />
<line x1="329.09" y1="114.80" x2="331.49" y2="114.80" stroke="#222" stroke-width="0.9" />
<line x1="329.09" y1="130.00" x2="331.49" y2="130.00" stroke="#222" stroke-width="0.9" />
<line x1="330.29" y1="122.00" x2="330.29" y2="152.10" stroke="#222" stroke-width="0.9" />
<line x1="329.09" y1="122.00" x2="331.49" y2="122.00" stroke="#222" stroke-width="0.9" />
<line x1="329.09" y1="152.10" x2="331.49" y2="152.10" stroke="#222" stroke-width="0.9" />
<line x1="347.62" y1="93.60" x2="347.62" y2="118.20" stroke="#222" stroke-width="0.9" />
<line x1="346.42" y1="93.60" x2="348.82" y2="93.60" stroke="#222" stroke-width="0.9" />
<line x1="346.42" y1="118.20" x2="348.82" y2="118.20" stroke="#222" stroke-width="0.9" />
<line x1="377.94" y1="91.10" x2="377.94" y2="111.70" stroke="#222" stroke-width="0.9" />
<line x1="376.74" y1="91.10" x2="379.14" y2="91.10" stroke="#222" stroke-width="0.9" />
<line x1="376.74" y1="111.70" x2="379.14" y2="111.70" stroke="#222" stroke-width="0.9" />
<line x1="499.21" y1="83.00" x2="499.21" y2="116.80" stroke="#222" stroke-width="0.9" />
<line x1="498.01" y1="83.00" x2="500.41" y2="83.00" stroke="#222" stroke-width="0.9" />
<line x1="498.01" y1="116.80" x2="500.41" y2="116.80" stroke="#222" stroke-width="0.9" />
<line x1="347.62" y1="76.00" x2="347.62" y2="88.00" stroke="#222" stroke-width="0.9" />
<line x1="346.42" y1="76.00" x2="348.82" y2="76.00" stroke="#222" stroke-width="0.9" />
<line x1="346.42" y1="88.00" x2="348.82" y2="88.00" stroke="#222" stroke-width="0.9" />
<line x1="377.94" y1="67.00" x2="377.94" y2="79.00" stroke="#222" stroke-width="0.9" />
<line x1="376.74" y1="67.00" x2="379.14" y2="67.00" stroke="#222" stroke-width="0.9" />
<line x1="376.74" y1="79.00" x2="379.14" y2="79.00" stroke="#222" stroke-width="0.9" />
<line x1="499.21" y1="63.00" x2="499.21" y2="74.00" stroke="#222" stroke-width="0.9" />
<line x1="498.01" y1="63.00" x2="500.41" y2="63.00" stroke="#222" stroke-width="0.9" />
<line x1="498.01" y1="74.00" x2="500.41" y2="74.00" stroke="#222" stroke-width="0.9" />
<line x1="330.29" y1="88.00" x2="330.29" y2="94.00" stroke="#222" stroke-width="0.9" />
<line x1="329.09" y1="88.00" x2="331.49" y2="88.00" stroke="#222" stroke-width="0.9" />
<line x1="329.09" y1="94.00" x2="331.49" y2="94.00" stroke="#222" stroke-width="0.9" />
<polyline points="330.29,122.20 347.62,93.60 377.94,91.10 499.21,90.50" fill="none" stroke="#000" stroke-width="1.3"/>
<path d="M330.29 118.90L333.59 122.20L330.29 125.50L326.99 122.20Z" fill="#fff" stroke="#000" stroke-width="1.1"/>
<path d="M347.62 90.30L350.92 93.60L347.62 96.90L344.32 93.60Z" fill="#fff" stroke="#000" stroke-width="1.1"/>
<path d="M377.94 87.80L381.24 91.10L377.94 94.40L374.64 91.10Z" fill="#fff" stroke="#000" stroke-width="1.1"/>
<path d="M499.21 87.20L502.51 90.50L499.21 93.80L495.91 90.50Z" fill="#fff" stroke="#000" stroke-width="1.1"/>
<polyline points="330.29,128.30 347.62,83.50 377.94,75.40 499.21,70.30" fill="none" stroke="#000" stroke-width="1.3"/>
<rect x="327.69" y="125.70" width="5.2" height="5.2" fill="#000"/>
<rect x="345.02" y="80.90" width="5.2" height="5.2" fill="#000"/>
<rect x="375.34" y="72.80" width="5.2" height="5.2" fill="#000"/>
<rect x="496.61" y="67.70" width="5.2" height="5.2" fill="#000"/>
<polyline points="330.29,91.10 347.62,79.00 377.94,70.30 499.21,66.30" fill="none" stroke="#000" stroke-width="1.3"/>
<circle cx="330.29" cy="91.10" r="3.0" fill="#000"/>
<circle cx="347.62" cy="79.00" r="3.0" fill="#000"/>
<circle cx="377.94" cy="70.30" r="3.0" fill="#000"/>
<circle cx="499.21" cy="66.30" r="3.0" fill="#000"/>
<rect x="358.80" y="41.80" width="119.50" height="16.40" fill="#fff" stroke="#000" stroke-width="1.1"/>
<line x1="361.80" y1="50.00" x2="372.60" y2="50.00" stroke="#000" stroke-width="1.3" />
<path d="M366.70 47.30L369.40 50.00L366.70 52.70L364.00 50.00Z" fill="#fff" stroke="#000" stroke-width="1.1"/>
<text x="373.00" y="53.50" font-size="8.6" text-anchor="start" textLength="23.6" lengthAdjust="spacingAndGlyphs" >AAV-1</text>
<line x1="401.00" y1="50.00" x2="411.60" y2="50.00" stroke="#000" stroke-width="1.3" />
<rect x="403.70" y="47.80" width="4.4" height="4.4" fill="#000"/>
<text x="411.90" y="53.50" font-size="8.6" text-anchor="start" textLength="24.3" lengthAdjust="spacingAndGlyphs" >AAV-2</text>
<line x1="440.40" y1="50.00" x2="451.00" y2="50.00" stroke="#000" stroke-width="1.3" />
<circle cx="446.00" cy="50.00" r="2.6" fill="#000"/>
<text x="451.30" y="53.50" font-size="8.6" text-anchor="start" textLength="25.0" lengthAdjust="spacingAndGlyphs" >AAV-6</text>
<line x1="316.20" y1="394.92" x2="511.50" y2="394.92" stroke="#333" stroke-width="1.0" />
<line x1="316.20" y1="377.54" x2="511.50" y2="377.54" stroke="#333" stroke-width="1.0" />
<line x1="316.20" y1="360.16" x2="511.50" y2="360.16" stroke="#333" stroke-width="1.0" />
<line x1="316.20" y1="342.78" x2="511.50" y2="342.78" stroke="#333" stroke-width="1.0" />
<line x1="316.20" y1="325.40" x2="511.50" y2="325.40" stroke="#333" stroke-width="1.0" />
<line x1="316.20" y1="308.02" x2="511.50" y2="308.02" stroke="#333" stroke-width="1.0" />
<line x1="316.20" y1="290.64" x2="511.50" y2="290.64" stroke="#333" stroke-width="1.0" />
<line x1="316.20" y1="273.26" x2="511.50" y2="273.26" stroke="#333" stroke-width="1.0" />
<line x1="316.20" y1="255.88" x2="511.50" y2="255.88" stroke="#333" stroke-width="1.0" />
<line x1="316.20" y1="238.50" x2="511.50" y2="238.50" stroke="#444" stroke-width="1.0" />
<line x1="511.50" y1="238.50" x2="511.50" y2="412.30" stroke="#444" stroke-width="1.0" />
<rect x="397.14" y="399.61" width="4.5" height="12.69" fill="#fff" stroke="#000" stroke-width="0.9"/>
<rect x="401.64" y="406.56" width="4.5" height="5.74" fill="#9a9a9a" stroke="#000" stroke-width="0.9"/>
<rect x="406.14" y="403.44" width="4.5" height="8.86" fill="#000" stroke="#000" stroke-width="0.9"/>
<rect x="417.05" y="410.39" width="4.5" height="1.91" fill="#fff" stroke="#000" stroke-width="0.9"/>
<rect x="421.55" y="402.74" width="4.5" height="9.56" fill="#fff" stroke="#000" stroke-width="0.9"/>
<rect x="426.05" y="404.83" width="4.5" height="7.47" fill="#9a9a9a" stroke="#000" stroke-width="0.9"/>
<rect x="430.55" y="407.43" width="4.5" height="4.87" fill="#000" stroke="#000" stroke-width="0.9"/>
<rect x="441.46" y="399.26" width="4.5" height="13.04" fill="#fff" stroke="#000" stroke-width="0.9"/>
<rect x="445.96" y="360.16" width="4.5" height="52.14" fill="#fff" stroke="#000" stroke-width="0.9"/>
<rect x="450.46" y="379.97" width="4.5" height="32.33" fill="#9a9a9a" stroke="#000" stroke-width="0.9"/>
<rect x="454.96" y="389.71" width="4.5" height="22.59" fill="#000" stroke="#000" stroke-width="0.9"/>
<rect x="465.88" y="396.66" width="4.5" height="15.64" fill="#fff" stroke="#000" stroke-width="0.9"/>
<rect x="470.38" y="317.23" width="4.5" height="95.07" fill="#fff" stroke="#000" stroke-width="0.9"/>
<rect x="474.88" y="343.65" width="4.5" height="68.65" fill="#9a9a9a" stroke="#000" stroke-width="0.9"/>
<rect x="479.38" y="363.81" width="4.5" height="48.49" fill="#000" stroke="#000" stroke-width="0.9"/>
<rect x="490.29" y="353.56" width="4.5" height="58.74" fill="#fff" stroke="#000" stroke-width="0.9"/>
<rect x="494.79" y="259.70" width="4.5" height="152.60" fill="#fff" stroke="#000" stroke-width="0.9"/>
<rect x="499.29" y="269.78" width="4.5" height="142.52" fill="#9a9a9a" stroke="#000" stroke-width="0.9"/>
<rect x="503.79" y="290.29" width="4.5" height="122.01" fill="#000" stroke="#000" stroke-width="0.9"/>
<line x1="316.20" y1="238.00" x2="316.20" y2="413.00" stroke="#000" stroke-width="1.5" />
<line x1="315.50" y1="412.30" x2="512.00" y2="412.30" stroke="#000" stroke-width="1.5" />
<line x1="314.00" y1="412.30" x2="316.20" y2="412.30" stroke="#000" stroke-width="1.0" />
<text x="312.50" y="415.80" font-size="12.2" text-anchor="end" >0</text>
<line x1="314.00" y1="394.92" x2="316.20" y2="394.92" stroke="#000" stroke-width="1.0" />
<text x="312.50" y="398.42" font-size="12.2" text-anchor="end" >10</text>
<line x1="314.00" y1="377.54" x2="316.20" y2="377.54" stroke="#000" stroke-width="1.0" />
<text x="312.50" y="381.04" font-size="12.2" text-anchor="end" >20</text>
<line x1="314.00" y1="360.16" x2="316.20" y2="360.16" stroke="#000" stroke-width="1.0" />
<text x="312.50" y="363.66" font-size="12.2" text-anchor="end" >30</text>
<line x1="314.00" y1="342.78" x2="316.20" y2="342.78" stroke="#000" stroke-width="1.0" />
<text x="312.50" y="346.28" font-size="12.2" text-anchor="end" >40</text>
<line x1="314.00" y1="325.40" x2="316.20" y2="325.40" stroke="#000" stroke-width="1.0" />
<text x="312.50" y="328.90" font-size="12.2" text-anchor="end" >50</text>
<line x1="314.00" y1="308.02" x2="316.20" y2="308.02" stroke="#000" stroke-width="1.0" />
<text x="312.50" y="311.52" font-size="12.2" text-anchor="end" >60</text>
<line x1="314.00" y1="290.64" x2="316.20" y2="290.64" stroke="#000" stroke-width="1.0" />
<text x="312.50" y="294.14" font-size="12.2" text-anchor="end" >70</text>
<line x1="314.00" y1="273.26" x2="316.20" y2="273.26" stroke="#000" stroke-width="1.0" />
<text x="312.50" y="276.76" font-size="12.2" text-anchor="end" >80</text>
<line x1="314.00" y1="255.88" x2="316.20" y2="255.88" stroke="#000" stroke-width="1.0" />
<text x="312.50" y="259.38" font-size="12.2" text-anchor="end" >90</text>
<line x1="314.00" y1="238.50" x2="316.20" y2="238.50" stroke="#000" stroke-width="1.0" />
<text x="312.50" y="242.00" font-size="12.2" text-anchor="end" >100</text>
<line x1="316.20" y1="412.30" x2="316.20" y2="414.50" stroke="#000" stroke-width="1.0" />
<line x1="340.61" y1="412.30" x2="340.61" y2="414.50" stroke="#000" stroke-width="1.0" />
<line x1="365.02" y1="412.30" x2="365.02" y2="414.50" stroke="#000" stroke-width="1.0" />
<line x1="389.44" y1="412.30" x2="389.44" y2="414.50" stroke="#000" stroke-width="1.0" />
<line x1="413.85" y1="412.30" x2="413.85" y2="414.50" stroke="#000" stroke-width="1.0" />
<line x1="438.26" y1="412.30" x2="438.26" y2="414.50" stroke="#000" stroke-width="1.0" />
<line x1="462.68" y1="412.30" x2="462.68" y2="414.50" stroke="#000" stroke-width="1.0" />
<line x1="487.09" y1="412.30" x2="487.09" y2="414.50" stroke="#000" stroke-width="1.0" />
<line x1="511.50" y1="412.30" x2="511.50" y2="414.50" stroke="#000" stroke-width="1.0" />
<text x="331.91" y="423.10" font-size="12.0" text-anchor="end" transform="rotate(-47 331.91 423.10)">3.12x10<tspan font-size="8.4" dy="-3.6">9</tspan></text>
<text x="356.32" y="423.10" font-size="12.0" text-anchor="end" transform="rotate(-47 356.32 423.10)">6.25x10<tspan font-size="8.4" dy="-3.6">9</tspan></text>
<text x="380.73" y="423.10" font-size="12.0" text-anchor="end" transform="rotate(-47 380.73 423.10)">1.25x10<tspan font-size="8.4" dy="-3.6">10</tspan></text>
<text x="405.14" y="423.10" font-size="12.0" text-anchor="end" transform="rotate(-47 405.14 423.10)">2.5x10<tspan font-size="8.4" dy="-3.6">10</tspan></text>
<text x="429.56" y="423.10" font-size="12.0" text-anchor="end" transform="rotate(-47 429.56 423.10)">5x10<tspan font-size="8.4" dy="-3.6">10</tspan></text>
<text x="453.97" y="423.10" font-size="12.0" text-anchor="end" transform="rotate(-47 453.97 423.10)">1x10<tspan font-size="8.4" dy="-3.6">11</tspan></text>
<text x="478.38" y="423.10" font-size="12.0" text-anchor="end" transform="rotate(-47 478.38 423.10)">2x10<tspan font-size="8.4" dy="-3.6">11</tspan></text>
<text x="502.79" y="423.10" font-size="12.0" text-anchor="end" transform="rotate(-47 502.79 423.10)">4x10<tspan font-size="8.4" dy="-3.6">11</tspan></text>
<text x="319.50" y="249.60" font-size="11" text-anchor="start" textLength="49.7" lengthAdjust="spacingAndGlyphs" >AAV-1/-6</text>
<line x1="319.00" y1="251.60" x2="369.70" y2="251.60" stroke="#000" stroke-width="1.2" />
<text x="0" y="0" font-size="12.2" text-anchor="middle" transform="translate(287.30,325.40) rotate(-90)" textLength="132" lengthAdjust="spacingAndGlyphs">% of AAV-6 expression</text>
<text x="375.90" y="473.30" font-size="12.9" text-anchor="start" textLength="73.8" lengthAdjust="spacingAndGlyphs" >Particle dose</text>
<rect x="329.4" y="271" width="109.4" height="52.9" fill="#fff" stroke="#000" stroke-width="1.1"/>
<rect x="334.20" y="279.00" width="4.8" height="9.6" fill="#fff" stroke="#000" stroke-width="0.9"/>
<text x="342.60" y="286.60" font-size="12" text-anchor="start" textLength="30.1" lengthAdjust="spacingAndGlyphs" >day 3</text>
<rect x="387.80" y="279.00" width="4.8" height="9.6" fill="#fff" stroke="#000" stroke-width="0.9"/>
<text x="396.30" y="286.60" font-size="12" text-anchor="start" textLength="29.7" lengthAdjust="spacingAndGlyphs" >day 7</text>
<rect x="334.20" y="305.00" width="4.8" height="9.6" fill="#9a9a9a" stroke="#000" stroke-width="0.9"/>
<text x="342.60" y="312.40" font-size="12" text-anchor="start" textLength="36.8" lengthAdjust="spacingAndGlyphs" >day 14</text>
<rect x="388.30" y="305.00" width="4.8" height="9.6" fill="#000" stroke="#000" stroke-width="0.9"/>
<text x="396.30" y="312.40" font-size="12" text-anchor="start" textLength="36.5" lengthAdjust="spacingAndGlyphs" >day 42</text>
<line x1="315.70" y1="652.02" x2="511.20" y2="652.02" stroke="#333" stroke-width="1.0" />
<line x1="315.70" y1="634.74" x2="511.20" y2="634.74" stroke="#333" stroke-width="1.0" />
<line x1="315.70" y1="617.46" x2="511.20" y2="617.46" stroke="#333" stroke-width="1.0" />
<line x1="315.70" y1="600.18" x2="511.20" y2="600.18" stroke="#333" stroke-width="1.0" />
<line x1="315.70" y1="582.90" x2="511.20" y2="582.90" stroke="#333" stroke-width="1.0" />
<line x1="315.70" y1="565.62" x2="511.20" y2="565.62" stroke="#333" stroke-width="1.0" />
<line x1="315.70" y1="548.34" x2="511.20" y2="548.34" stroke="#333" stroke-width="1.0" />
<line x1="315.70" y1="531.06" x2="511.20" y2="531.06" stroke="#333" stroke-width="1.0" />
<line x1="315.70" y1="513.78" x2="511.20" y2="513.78" stroke="#333" stroke-width="1.0" />
<line x1="315.70" y1="496.50" x2="511.20" y2="496.50" stroke="#444" stroke-width="1.0" />
<line x1="511.20" y1="496.50" x2="511.20" y2="669.30" stroke="#444" stroke-width="1.0" />
<rect x="332.40" y="582.73" width="4.5" height="86.57" fill="#000" stroke="#000" stroke-width="0.9"/>
<rect x="356.84" y="538.66" width="4.5" height="130.64" fill="#000" stroke="#000" stroke-width="0.9"/>
<rect x="372.27" y="638.54" width="4.5" height="30.76" fill="#fff" stroke="#000" stroke-width="0.9"/>
<rect x="376.77" y="646.49" width="4.5" height="22.81" fill="#9a9a9a" stroke="#000" stroke-width="0.9"/>
<rect x="381.27" y="510.32" width="4.5" height="158.98" fill="#000" stroke="#000" stroke-width="0.9"/>
<rect x="396.71" y="627.66" width="4.5" height="41.64" fill="#fff" stroke="#000" stroke-width="0.9"/>
<rect x="401.21" y="640.10" width="4.5" height="29.20" fill="#9a9a9a" stroke="#000" stroke-width="0.9"/>
<rect x="405.71" y="552.66" width="4.5" height="116.64" fill="#000" stroke="#000" stroke-width="0.9"/>
<rect x="416.65" y="666.54" width="4.5" height="2.76" fill="#fff" stroke="#000" stroke-width="0.9"/>
<rect x="421.15" y="569.08" width="4.5" height="100.22" fill="#fff" stroke="#000" stroke-width="0.9"/>
<rect x="425.65" y="605.19" width="4.5" height="64.11" fill="#9a9a9a" stroke="#000" stroke-width="0.9"/>
<rect x="430.15" y="585.15" width="4.5" height="84.15" fill="#000" stroke="#000" stroke-width="0.9"/>
<rect x="441.09" y="661.52" width="4.5" height="7.78" fill="#fff" stroke="#000" stroke-width="0.9"/>
<rect x="445.59" y="549.20" width="4.5" height="120.10" fill="#fff" stroke="#000" stroke-width="0.9"/>
<rect x="450.09" y="546.96" width="4.5" height="122.34" fill="#9a9a9a" stroke="#000" stroke-width="0.9"/>
<rect x="454.59" y="553.70" width="4.5" height="115.60" fill="#000" stroke="#000" stroke-width="0.9"/>
<rect x="465.52" y="626.62" width="4.5" height="42.68" fill="#fff" stroke="#000" stroke-width="0.9"/>
<rect x="470.02" y="525.53" width="4.5" height="143.77" fill="#fff" stroke="#000" stroke-width="0.9"/>
<rect x="474.52" y="531.23" width="4.5" height="138.07" fill="#9a9a9a" stroke="#000" stroke-width="0.9"/>
<rect x="479.02" y="574.26" width="4.5" height="95.04" fill="#000" stroke="#000" stroke-width="0.9"/>
<rect x="489.96" y="596.21" width="4.5" height="73.09" fill="#fff" stroke="#000" stroke-width="0.9"/>
<rect x="494.46" y="570.11" width="4.5" height="99.19" fill="#fff" stroke="#000" stroke-width="0.9"/>
<rect x="498.96" y="549.20" width="4.5" height="120.10" fill="#9a9a9a" stroke="#000" stroke-width="0.9"/>
<rect x="503.46" y="570.11" width="4.5" height="99.19" fill="#000" stroke="#000" stroke-width="0.9"/>
<line x1="315.70" y1="496.00" x2="315.70" y2="670.00" stroke="#000" stroke-width="1.5" />
<line x1="315.00" y1="669.30" x2="511.70" y2="669.30" stroke="#000" stroke-width="1.5" />
<line x1="313.50" y1="669.30" x2="315.70" y2="669.30" stroke="#000" stroke-width="1.0" />
<text x="312.00" y="672.80" font-size="12.2" text-anchor="end" >0</text>
<line x1="313.50" y1="652.02" x2="315.70" y2="652.02" stroke="#000" stroke-width="1.0" />
<text x="312.00" y="655.52" font-size="12.2" text-anchor="end" >10</text>
<line x1="313.50" y1="634.74" x2="315.70" y2="634.74" stroke="#000" stroke-width="1.0" />
<text x="312.00" y="638.24" font-size="12.2" text-anchor="end" >20</text>
<line x1="313.50" y1="617.46" x2="315.70" y2="617.46" stroke="#000" stroke-width="1.0" />
<text x="312.00" y="620.96" font-size="12.2" text-anchor="end" >30</text>
<line x1="313.50" y1="600.18" x2="315.70" y2="600.18" stroke="#000" stroke-width="1.0" />
<text x="312.00" y="603.68" font-size="12.2" text-anchor="end" >40</text>
<line x1="313.50" y1="582.90" x2="315.70" y2="582.90" stroke="#000" stroke-width="1.0" />
<text x="312.00" y="586.40" font-size="12.2" text-anchor="end" >50</text>
<line x1="313.50" y1="565.62" x2="315.70" y2="565.62" stroke="#000" stroke-width="1.0" />
<text x="312.00" y="569.12" font-size="12.2" text-anchor="end" >60</text>
<line x1="313.50" y1="548.34" x2="315.70" y2="548.34" stroke="#000" stroke-width="1.0" />
<text x="312.00" y="551.84" font-size="12.2" text-anchor="end" >70</text>
<line x1="313.50" y1="531.06" x2="315.70" y2="531.06" stroke="#000" stroke-width="1.0" />
<text x="312.00" y="534.56" font-size="12.2" text-anchor="end" >80</text>
<line x1="313.50" y1="513.78" x2="315.70" y2="513.78" stroke="#000" stroke-width="1.0" />
<text x="312.00" y="517.28" font-size="12.2" text-anchor="end" >90</text>
<line x1="313.50" y1="496.50" x2="315.70" y2="496.50" stroke="#000" stroke-width="1.0" />
<text x="312.00" y="500.00" font-size="12.2" text-anchor="end" >100</text>
<line x1="315.70" y1="669.30" x2="315.70" y2="671.50" stroke="#000" stroke-width="1.0" />
<line x1="340.14" y1="669.30" x2="340.14" y2="671.50" stroke="#000" stroke-width="1.0" />
<line x1="364.57" y1="669.30" x2="364.57" y2="671.50" stroke="#000" stroke-width="1.0" />
<line x1="389.01" y1="669.30" x2="389.01" y2="671.50" stroke="#000" stroke-width="1.0" />
<line x1="413.45" y1="669.30" x2="413.45" y2="671.50" stroke="#000" stroke-width="1.0" />
<line x1="437.89" y1="669.30" x2="437.89" y2="671.50" stroke="#000" stroke-width="1.0" />
<line x1="462.32" y1="669.30" x2="462.32" y2="671.50" stroke="#000" stroke-width="1.0" />
<line x1="486.76" y1="669.30" x2="486.76" y2="671.50" stroke="#000" stroke-width="1.0" />
<line x1="511.20" y1="669.30" x2="511.20" y2="671.50" stroke="#000" stroke-width="1.0" />
<text x="331.42" y="680.10" font-size="12.0" text-anchor="end" transform="rotate(-47 331.42 680.10)">3.12x10<tspan font-size="8.4" dy="-3.6">9</tspan></text>
<text x="355.86" y="680.10" font-size="12.0" text-anchor="end" transform="rotate(-47 355.86 680.10)">6.25x10<tspan font-size="8.4" dy="-3.6">9</tspan></text>
<text x="380.29" y="680.10" font-size="12.0" text-anchor="end" transform="rotate(-47 380.29 680.10)">1.25x10<tspan font-size="8.4" dy="-3.6">10</tspan></text>
<text x="404.73" y="680.10" font-size="12.0" text-anchor="end" transform="rotate(-47 404.73 680.10)">2.5x10<tspan font-size="8.4" dy="-3.6">10</tspan></text>
<text x="429.17" y="680.10" font-size="12.0" text-anchor="end" transform="rotate(-47 429.17 680.10)">5x10<tspan font-size="8.4" dy="-3.6">10</tspan></text>
<text x="453.61" y="680.10" font-size="12.0" text-anchor="end" transform="rotate(-47 453.61 680.10)">1x10<tspan font-size="8.4" dy="-3.6">11</tspan></text>
<text x="478.04" y="680.10" font-size="12.0" text-anchor="end" transform="rotate(-47 478.04 680.10)">2x10<tspan font-size="8.4" dy="-3.6">11</tspan></text>
<text x="502.48" y="680.10" font-size="12.0" text-anchor="end" transform="rotate(-47 502.48 680.10)">4x10<tspan font-size="8.4" dy="-3.6">11</tspan></text>
<text x="319.00" y="508.60" font-size="11" text-anchor="start" textLength="49.7" lengthAdjust="spacingAndGlyphs" >AAV-2/-6</text>
<line x1="318.50" y1="510.60" x2="369.20" y2="510.60" stroke="#000" stroke-width="1.2" />
<text x="0" y="0" font-size="12.2" text-anchor="middle" transform="translate(286.30,582.90) rotate(-90)" textLength="132" lengthAdjust="spacingAndGlyphs">% of AAV-6 expression</text>
<text x="375.60" y="727.50" font-size="12.9" text-anchor="start" textLength="73.8" lengthAdjust="spacingAndGlyphs" >Particle dose</text>
</svg></body></html>
